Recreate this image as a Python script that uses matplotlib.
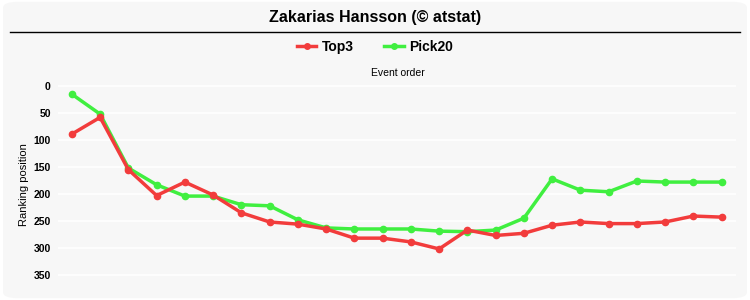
import matplotlib.pyplot as plt
from matplotlib.patches import FancyBboxPatch
from matplotlib.lines import Line2D

plt.rcParams['font.family'] = ['Liberation Sans', 'DejaVu Sans']

events = list(range(1, 25))
top3 = [89, 58, 155, 203, 178, 202, 235, 252, 256, 265, 282, 282, 289, 302,
        267, 277, 273, 258, 252, 255, 255, 252, 241, 243]
pick20 = [15, 52, 152, 183, 204, 204, 220, 222, 248, 263, 265, 265, 265, 269,
          270, 267, 245, 172, 193, 196, 176, 178, 178, 178]
yticks = [0, 50, 100, 150, 200, 250, 300, 350]

red = '#f23c3c'
green = '#40ef40'

fig = plt.figure(figsize=(7.5, 3), dpi=100, facecolor='white')
bg = FancyBboxPatch((0.004, 0.006), 0.992, 0.988, boxstyle='round,pad=0,rounding_size=0.02',
                    transform=fig.transFigure, facecolor='#f7f7f7', edgecolor='none', zorder=-10)
fig.patches.append(bg)

fig.text(0.5, 0.943, 'Zakarias Hansson (© atstat)', ha='center', va='center',
         fontsize=11.5, fontweight='bold')
fig.add_artist(Line2D([0.013, 0.987], [0.893, 0.893], color='black', lw=1))
fig.text(0.53, 0.757, 'Event order', ha='center', va='center', fontsize=7.5)

ax = fig.add_axes([0.077, 0.03, 0.904, 0.71])
ax.set_facecolor('#f7f7f7')
x = [e - 1 for e in events]
ax.plot(x, top3, color=red, lw=2.5, marker='o', ms=4.5, label='Top3', zorder=3)
ax.plot(x, pick20, color=green, lw=2.5, marker='o', ms=4.5, label='Pick20', zorder=2)

ax.set_xlim(-0.5, 23.5)
ax.set_ylim(380, -15)
ax.set_yticks(yticks)
ax.set_yticklabels([str(t) for t in yticks], fontweight='bold', fontsize=7.5)
ax.set_xticks([])
ax.grid(axis='y', color='white', lw=1.2)
ax.set_axisbelow(True)
for s in ax.spines.values():
    s.set_visible(False)
ax.tick_params(axis='y', length=0, pad=5)
ax.set_ylabel('Ranking position', fontsize=8, labelpad=3)

leg = fig.legend(handles=ax.get_lines(), loc='center', bbox_to_anchor=(0.5, 0.843), ncol=2,
                 frameon=False, prop={'weight': 'bold', 'size': 10},
                 handlelength=1.4, columnspacing=2.2, handletextpad=0.4)
for h in leg.legend_handles:
    h.set_markersize(4)

fig.savefig('out.png', dpi=100, facecolor=fig.get_facecolor())
